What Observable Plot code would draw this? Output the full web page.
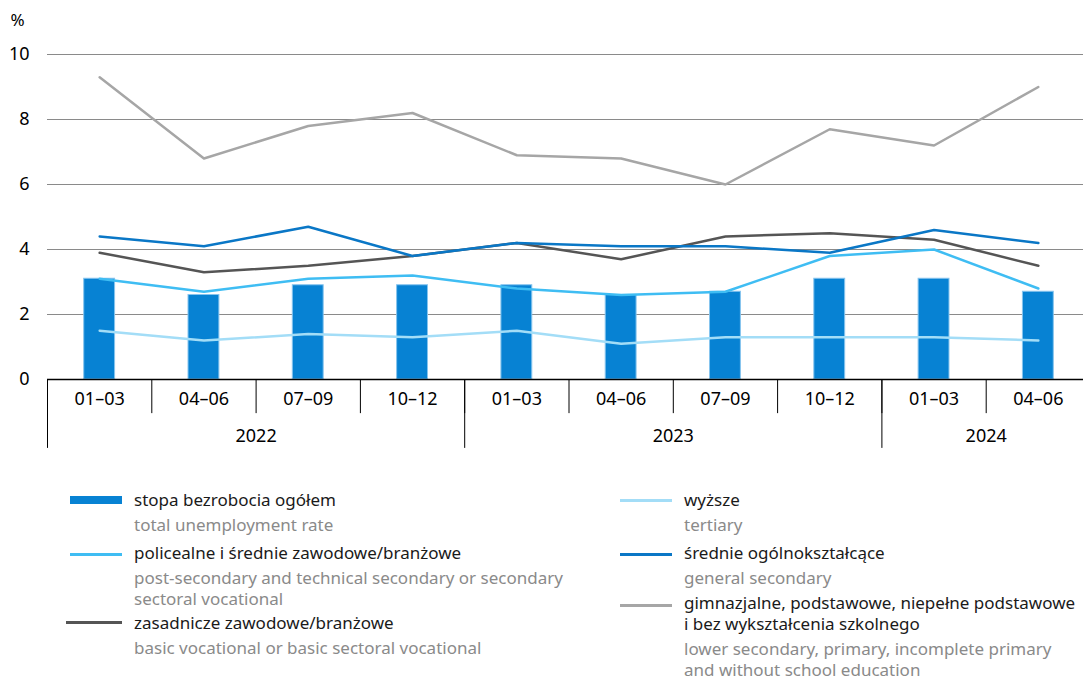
<!DOCTYPE html>
<html>
<head>
<meta charset="utf-8">
<script src="https://cdn.jsdelivr.net/npm/d3@7"></script>
<script src="https://cdn.jsdelivr.net/npm/@observablehq/plot@0.6"></script>
<style>
  html, body { margin: 0; padding: 0; background: #fff; overflow: hidden; }
  body { width: 1083px; height: 683px; position: relative; font-family: "Noto Sans", sans-serif; }
  #chart { position: absolute; left: 0; top: 0; }
  .item { position: absolute; }
  .pl { color: #1a1a1a; font-size: 17px; line-height: 21px; white-space: nowrap; }
  .en { color: #8a8a8a; font-size: 17px; line-height: 21px; white-space: nowrap; margin-top: 4px; }
  .sw { position: absolute; }
</style>
</head>
<body>
<div id="chart"></div>
<div id="legend"></div>
<script>
// ---- data ----
const quarters = ["01–03","04–06","07–09","10–12","01–03","04–06","07–09","10–12","01–03","04–06"];
const years = ["2022","2023","2024"];
const yearFirstQuarter = [0, 4, 8];
const yearQuarterCount = [4, 4, 2];
const yTicks = [0, 2, 4, 6, 8, 10];

const total      = [3.1, 2.6, 2.9, 2.9, 2.9, 2.6, 2.7, 3.1, 3.1, 2.7];
const tertiary   = [1.5, 1.2, 1.4, 1.3, 1.5, 1.1, 1.3, 1.3, 1.3, 1.2];
const postSec    = [3.1, 2.7, 3.1, 3.2, 2.8, 2.6, 2.7, 3.8, 4.0, 2.8];
const generalSec = [4.4, 4.1, 4.7, 3.8, 4.2, 4.1, 4.1, 3.9, 4.6, 4.2];
const basicVoc   = [3.9, 3.3, 3.5, 3.8, 4.2, 3.7, 4.4, 4.5, 4.3, 3.5];
const lowerSec   = [9.3, 6.8, 7.8, 8.2, 6.9, 6.8, 6.0, 7.7, 7.2, 9.0];

const seriesPl = [
  "stopa bezrobocia ogółem",
  "policealne i średnie zawodowe/branżowe",
  "zasadnicze zawodowe/branżowe",
  "wyższe",
  "średnie ogólnokształcące",
  "gimnazjalne, podstawowe, niepełne podstawowe<br>i bez wykształcenia szkolnego"
];
const seriesEn = [
  "total unemployment rate",
  "post-secondary and technical secondary or secondary<br>sectoral vocational",
  "basic vocational or basic sectoral vocational",
  "tertiary",
  "general secondary",
  "lower secondary, primary, incomplete primary<br>and without school education"
];

// ---- styles ----
const cBar = "#0782d3", cBarEdge = "#86c4ee";
const cTert = "#a3ddf7", cPost = "#3fbdf3", cGen = "#0a77c6", cBasic = "#555555", cLower = "#a6a6a6";
const legendColors = [cBar, cPost, cBasic, cTert, cGen, cLower];

const idx = quarters.map((q, i) => i);
const lineData = (vals) => vals.map((v, i) => ({i, v}));

const plot = Plot.plot({
  width: 1083,
  height: 460,
  marginTop: 54,
  marginBottom: 81,
  marginLeft: 47,
  marginRight: 0,
  style: {fontFamily: "Noto Sans, sans-serif", overflow: "hidden"},
  x: {type: "linear", domain: [-0.5, quarters.length - 0.5], range: [47, 1090], axis: null},
  y: {domain: [0, 10], axis: null},
  marks: [
    Plot.ruleY(yTicks.filter(t => t > 0), {stroke: "#8a8a8a", strokeWidth: 1}),
    Plot.axisY({ticks: yTicks, tickSize: 0, tickPadding: 18, label: null, tickFormat: d => d, fontSize: 18, color: "#000"}),
    Plot.rectY(idx, {x1: i => i - 0.148, x2: i => i + 0.148, y1: 0, y2: i => total[i], fill: cBar, stroke: cBarEdge, strokeWidth: 1}),
    Plot.line(lineData(tertiary), {x: "i", y: "v", stroke: cTert, strokeWidth: 2.5}),
    Plot.line(lineData(postSec), {x: "i", y: "v", stroke: cPost, strokeWidth: 2.5}),
    Plot.line(lineData(basicVoc), {x: "i", y: "v", stroke: cBasic, strokeWidth: 2.5}),
    Plot.line(lineData(generalSec), {x: "i", y: "v", stroke: cGen, strokeWidth: 2.5}),
    Plot.line(lineData(lowerSec), {x: "i", y: "v", stroke: cLower, strokeWidth: 2.5}),
    Plot.ruleY([0], {stroke: "#000", strokeWidth: 1.5}),
    // quarter separators
    Plot.ruleX(idx, {x: i => i - 0.5, y1: 0, y2: -1.05, stroke: "#000", strokeWidth: 1}),
    // year separators
    Plot.ruleX(yearFirstQuarter, {x: i => i - 0.5, y1: 0, y2: -2.12, stroke: "#000", strokeWidth: 1}),
    Plot.text(idx, {x: i => i, y: -0.62, text: i => quarters[i], fontSize: 18, fill: "#000"}),
    Plot.text(years, {x: (d, k) => yearFirstQuarter[k] + (yearQuarterCount[k] - 1) / 2, y: -1.76, text: d => d, fontSize: 18, fill: "#000"}),
    Plot.text(["%"], {frameAnchor: "top-left", textAnchor: "start", lineAnchor: "middle", dx: -37, dy: -34, fontSize: 17, fill: "#000"})
  ]
});
document.getElementById("chart").appendChild(plot);

// ---- legend (HTML) ----
const legendLayout = [
  {left: 134, top: 489, swX: 70, swW: 52, swH: 8, swY: 7},
  {left: 134, top: 542, swX: 70, swW: 52, swH: 3, swY: 11},
  {left: 134, top: 612, swX: 66, swW: 56, swH: 3, swY: 9},
  {left: 684, top: 489, swX: 620, swW: 52, swH: 3, swY: 10},
  {left: 684, top: 542, swX: 620, swW: 52, swH: 3, swY: 11},
  {left: 684, top: 592, swX: 620, swW: 52, swH: 3, swY: 12}
];
const legend = document.getElementById("legend");
seriesPl.forEach((pl, k) => {
  const L = legendLayout[k];
  const item = document.createElement("div");
  item.className = "item";
  item.style.left = L.left + "px";
  item.style.top = L.top + "px";
  item.innerHTML = `<div class="pl">${pl}</div><div class="en">${seriesEn[k]}</div>`;
  legend.appendChild(item);
  const sw = document.createElement("div");
  sw.className = "sw";
  sw.style.left = L.swX + "px";
  sw.style.top = (L.top + L.swY) + "px";
  sw.style.width = L.swW + "px";
  sw.style.height = L.swH + "px";
  sw.style.background = legendColors[k];
  legend.appendChild(sw);
});
</script>
</body>
</html>
